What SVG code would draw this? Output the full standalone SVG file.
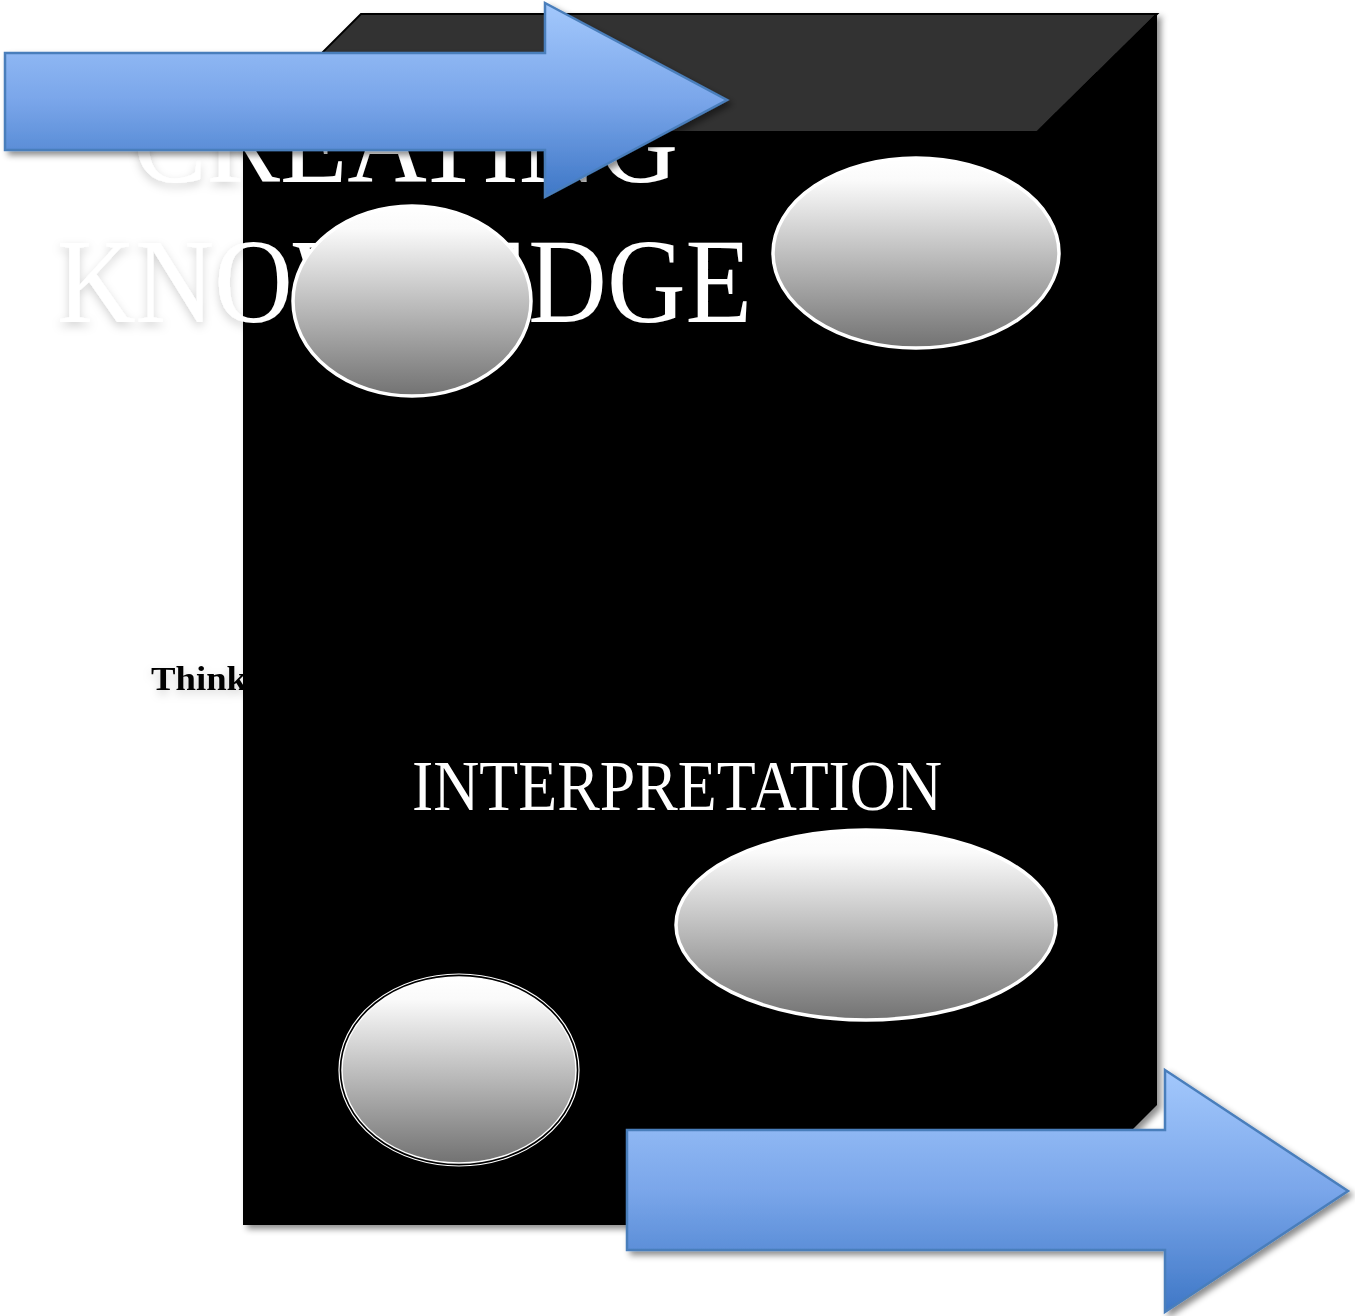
<svg xmlns="http://www.w3.org/2000/svg" width="1355" height="1316" viewBox="0 0 1355 1316">
<defs>
<linearGradient id="gEll" x1="0" y1="0" x2="0" y2="1">
<stop offset="0" stop-color="#ffffff"/>
<stop offset="0.12" stop-color="#fafafa"/>
<stop offset="1" stop-color="#727272"/>
</linearGradient>
<linearGradient id="gArr" x1="0" y1="0" x2="0" y2="1">
<stop offset="0" stop-color="#a3c8fc"/>
<stop offset="0.5" stop-color="#7aa6ea"/>
<stop offset="1" stop-color="#3e77c6"/>
</linearGradient>
<filter id="fShadow" x="-10%" y="-10%" width="125%" height="125%">
<feDropShadow dx="4" dy="4" stdDeviation="3" flood-color="#000" flood-opacity="0.45"/>
</filter>
<filter id="fGlow" x="-10%" y="-20%" width="120%" height="150%">
<feDropShadow dx="0" dy="4" stdDeviation="5" flood-color="#000" flood-opacity="0.18"/>
</filter>
</defs>
<style>
.ell{fill:url(#gEll);stroke:#ffffff;stroke-width:3.5}
.arr{fill:url(#gArr);stroke:#4a7ebb;stroke-width:2.5;stroke-linejoin:miter;filter:url(#fShadow)}
.big{font-family:"Liberation Serif","DejaVu Serif",serif;fill:#ffffff}
</style>
<rect width="1355" height="1316" fill="#ffffff"/>
<g id="think">
<text x="151" y="690" font-family="'Liberation Serif', 'DejaVu Serif', serif" font-weight="bold" font-size="33" fill="#000" filter="url(#fGlow)" textLength="96" lengthAdjust="spacingAndGlyphs">Think</text>
</g>
<g id="cube" filter="url(#fShadow)">
<polygon points="243,132 361,14 1157,14 1157,1105 1037,1225 243,1225" fill="#000000"/>
<polygon points="243,132 361,14 1157,14 1037,132" fill="#333333" stroke="#000" stroke-width="2"/>
</g>
<g id="title">
<text class="big" x="133" y="182" font-size="121" textLength="545" lengthAdjust="spacingAndGlyphs" filter="url(#fGlow)">CREATING</text>
<text class="big" x="57" y="322" font-size="121" textLength="695" lengthAdjust="spacingAndGlyphs" filter="url(#fGlow)">KNOWLEDGE</text>
</g>
<g id="interpretation">
<text class="big" x="412" y="810" font-size="72" textLength="530" lengthAdjust="spacingAndGlyphs">INTERPRETATION</text>
</g>
<g id="ellipse1"><ellipse class="ell" cx="412" cy="301" rx="119" ry="95"/></g>
<g id="ellipse2"><ellipse class="ell" cx="916" cy="253" rx="143" ry="95"/></g>
<g id="ellipse3"><ellipse class="ell" cx="866" cy="925" rx="190" ry="95"/></g>
<g id="ellipse4">
<ellipse cx="459" cy="1070" rx="120" ry="96" fill="none" stroke="#ffffff" stroke-width="1.2"/>
<ellipse cx="459" cy="1070" rx="117" ry="93" fill="url(#gEll)" stroke="#ffffff" stroke-width="1.5"/>
</g>
<g id="connectors">
<polygon id="arrowTop" class="arr" points="5,53 545,53 545,3 727,100 545,197 545,150 5,150"/>
<polygon id="arrowBottom" class="arr" points="627,1130 1165,1130 1165,1070 1348,1191 1165,1312 1165,1250 627,1250"/>
</g>
</svg>
